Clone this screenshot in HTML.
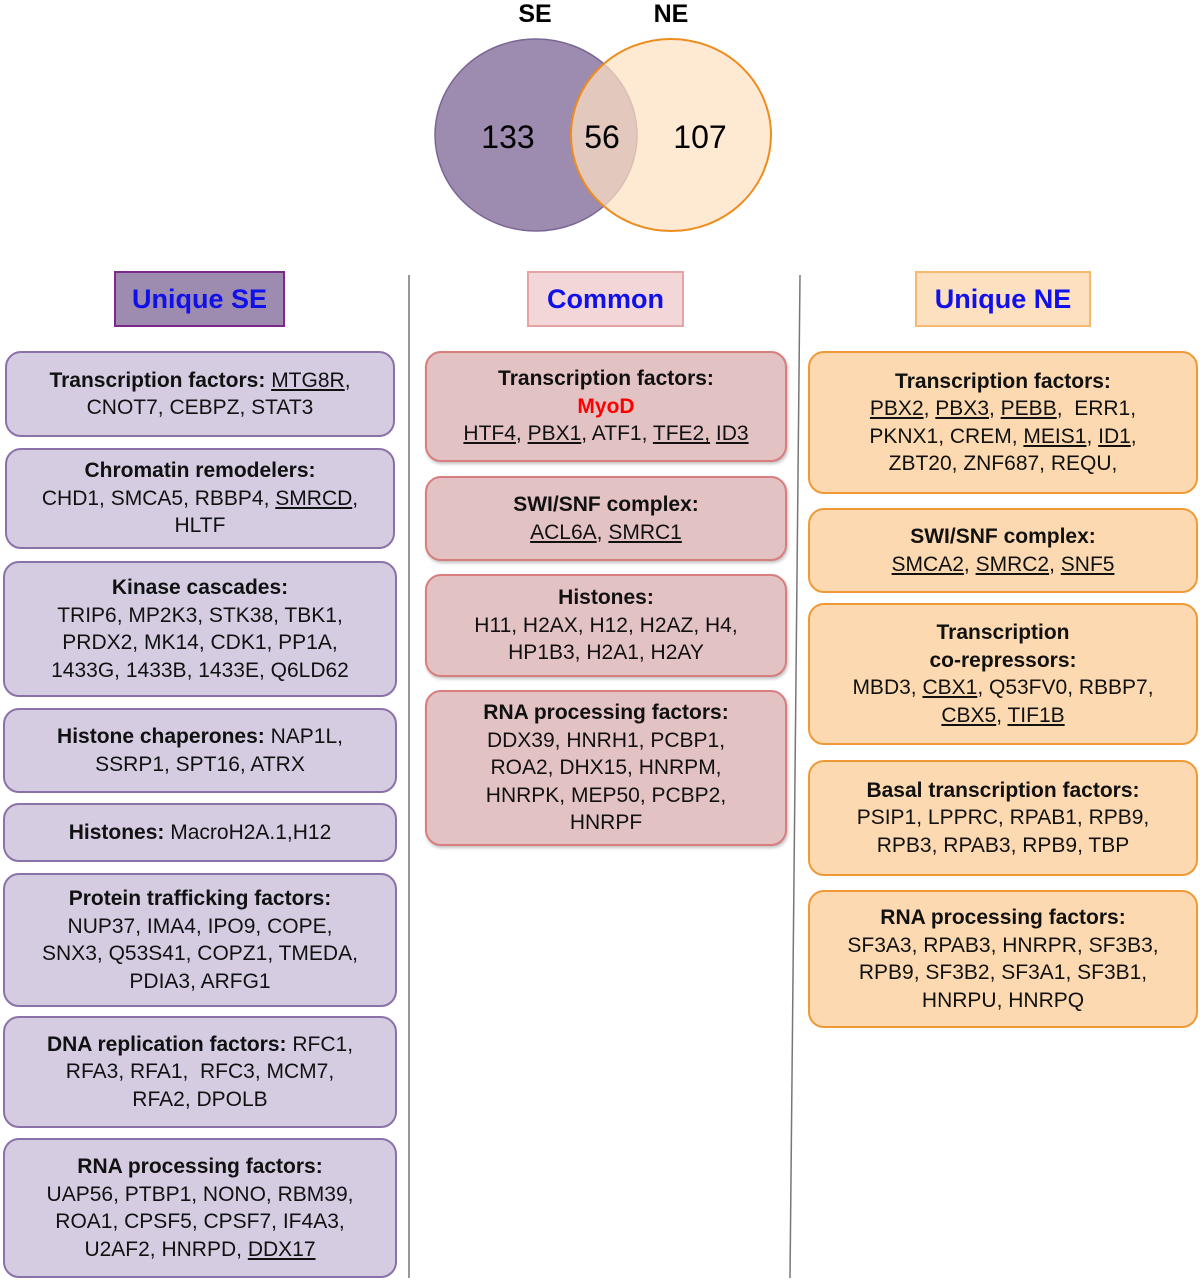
<!DOCTYPE html>
<html><head><meta charset="utf-8"><style>
body{margin:0;width:1200px;height:1280px;background:#fff;position:relative;font-family:"Liberation Sans",sans-serif;overflow:hidden}
.b{position:absolute;box-sizing:border-box;border-radius:16px;display:flex;flex-direction:column;justify-content:center;align-items:center;text-align:center;font-size:21px;line-height:27.5px;color:#111}
.s{background:#d5cce2;border:2px solid #8a72a8}
.c{background:#e3c2c4;border:2px solid #d87e7e;box-shadow:1px 2px 3px rgba(0,0,0,.25)}
.n{background:#fcd9b0;border:2px solid #ef9a35}
b{font-weight:bold}
u{text-decoration:underline}
.h{position:absolute;box-sizing:border-box;display:flex;align-items:center;justify-content:center;font-weight:bold;font-size:27px;color:#1010e8;height:56px;top:271px}
</style></head><body>
<svg width="1200" height="1280" style="position:absolute;left:0;top:0">
<text x="535" y="22" font-family="Liberation Sans" font-weight="bold" font-size="25" text-anchor="middle">SE</text>
<text x="671" y="22" font-family="Liberation Sans" font-weight="bold" font-size="25" text-anchor="middle">NE</text>
<ellipse cx="536" cy="135" rx="101" ry="96" fill="#9d8bb0" stroke="#7a6795" stroke-width="1.5"/>
<ellipse cx="671" cy="135" rx="100" ry="96" fill="#fde0c2" fill-opacity="0.72" stroke="#ee8c1e" stroke-width="2"/>
<text x="508" y="148" font-family="Liberation Sans" font-size="32" text-anchor="middle">133</text>
<text x="602" y="148" font-family="Liberation Sans" font-size="32" text-anchor="middle">56</text>
<text x="700" y="148" font-family="Liberation Sans" font-size="32" text-anchor="middle">107</text>
<line x1="409" y1="275" x2="409" y2="1278" stroke="#777" stroke-width="1.5"/>
<line x1="800" y1="275" x2="790" y2="1278" stroke="#777" stroke-width="1.5"/>
</svg>
<div class="h" style="left:114px;width:171px;background:#9d8bb0;border:2px solid #7b2a8a">Unique SE</div>
<div class="h" style="left:527px;width:157px;background:#f2d6d8;border:2px solid #e4a4a6">Common</div>
<div class="h" style="left:915px;width:176px;background:#fde0c0;border:2px solid #f5b970">Unique NE</div>

<div class="b s" style="left:5px;top:351px;width:390px;height:86px"><div><b>Transcription factors:</b> <u>MTG8R</u>,</div><div>CNOT7, CEBPZ, STAT3</div></div>
<div class="b s" style="left:5px;top:448px;width:390px;height:101px"><div><b>Chromatin remodelers:</b></div><div>CHD1, SMCA5, RBBP4, <u>SMRCD</u>,</div><div>HLTF</div></div>
<div class="b s" style="left:3px;top:561px;width:394px;height:136px"><div><b>Kinase cascades:</b></div><div>TRIP6, MP2K3, STK38, TBK1,</div><div>PRDX2, MK14, CDK1, PP1A,</div><div>1433G, 1433B, 1433E, Q6LD62</div></div>
<div class="b s" style="left:3px;top:708px;width:394px;height:85px"><div><b>Histone chaperones:</b> NAP1L,</div><div>SSRP1, SPT16, ATRX</div></div>
<div class="b s" style="left:3px;top:803px;width:394px;height:59px"><div><b>Histones:</b> MacroH2A.1,H12</div></div>
<div class="b s" style="left:3px;top:873px;width:394px;height:134px"><div><b>Protein trafficking factors:</b></div><div>NUP37, IMA4, IPO9, COPE,</div><div>SNX3, Q53S41, COPZ1, TMEDA,</div><div>PDIA3, ARFG1</div></div>
<div class="b s" style="left:3px;top:1016px;width:394px;height:112px"><div><b>DNA replication factors:</b> RFC1,</div><div>RFA3, RFA1,&nbsp; RFC3, MCM7,</div><div>RFA2, DPOLB</div></div>
<div class="b s" style="left:3px;top:1138px;width:394px;height:140px"><div><b>RNA processing factors:</b></div><div>UAP56, PTBP1, NONO, RBM39,</div><div>ROA1, CPSF5, CPSF7, IF4A3,</div><div>U2AF2, HNRPD, <u>DDX17</u></div></div>

<div class="b c" style="left:425px;top:351px;width:362px;height:111px"><div><b>Transcription factors:</b></div><div style="color:#f00;font-weight:bold">MyoD</div><div><u>HTF4</u>, <u>PBX1</u>, ATF1, <u>TFE2,</u> <u>ID3</u></div></div>
<div class="b c" style="left:425px;top:476px;width:362px;height:85px"><div><b>SWI/SNF complex:</b></div><div><u>ACL6A</u>, <u>SMRC1</u></div></div>
<div class="b c" style="left:425px;top:574px;width:362px;height:103px"><div><b>Histones:</b></div><div>H11, H2AX, H12, H2AZ, H4,</div><div>HP1B3, H2A1, H2AY</div></div>
<div class="b c" style="left:425px;top:690px;width:362px;height:156px"><div><b>RNA processing factors:</b></div><div>DDX39, HNRH1, PCBP1,</div><div>ROA2, DHX15, HNRPM,</div><div>HNRPK, MEP50, PCBP2,</div><div>HNRPF</div></div>

<div class="b n" style="left:808px;top:351px;width:390px;height:143px"><div><b>Transcription factors:</b></div><div><u>PBX2</u>, <u>PBX3</u>, <u>PEBB</u>,&nbsp; ERR1,</div><div>PKNX1, CREM, <u>MEIS1</u>, <u>ID1</u>,</div><div>ZBT20, ZNF687, REQU,</div></div>
<div class="b n" style="left:808px;top:508px;width:390px;height:85px"><div><b>SWI/SNF complex:</b></div><div><u>SMCA2</u>, <u>SMRC2</u>, <u>SNF5</u></div></div>
<div class="b n" style="left:808px;top:603px;width:390px;height:142px"><div><b>Transcription</b></div><div><b>co-repressors:</b></div><div>MBD3, <u>CBX1</u>, Q53FV0, RBBP7,</div><div><u>CBX5</u>, <u>TIF1B</u></div></div>
<div class="b n" style="left:808px;top:760px;width:390px;height:116px"><div><b>Basal transcription factors:</b></div><div>PSIP1, LPPRC, RPAB1, RPB9,</div><div>RPB3, RPAB3, RPB9, TBP</div></div>
<div class="b n" style="left:808px;top:890px;width:390px;height:138px"><div><b>RNA processing factors:</b></div><div>SF3A3, RPAB3, HNRPR, SF3B3,</div><div>RPB9, SF3B2, SF3A1, SF3B1,</div><div>HNRPU, HNRPQ</div></div>
</body></html>
